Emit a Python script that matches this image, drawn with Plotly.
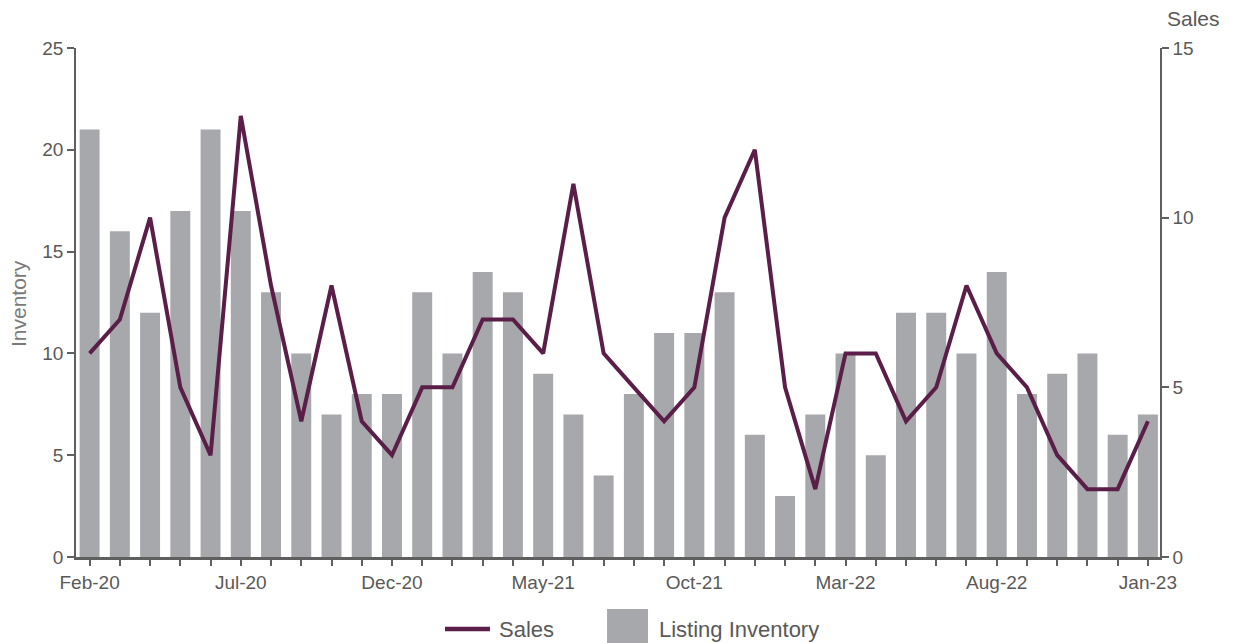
import plotly.graph_objects as go

# 月份
months = ['Feb-20', 'Mar-20', 'Apr-20', 'May-20', 'Jun-20', 'Jul-20', 'Aug-20', 'Sep-20',
          'Oct-20', 'Nov-20', 'Dec-20', 'Jan-21', 'Feb-21', 'Mar-21', 'Apr-21', 'May-21',
          'Jun-21', 'Jul-21', 'Aug-21', 'Sep-21', 'Oct-21', 'Nov-21', 'Dec-21', 'Jan-22',
          'Feb-22', 'Mar-22', 'Apr-22', 'May-22', 'Jun-22', 'Jul-22', 'Aug-22', 'Sep-22',
          'Oct-22', 'Nov-22', 'Dec-22', 'Jan-23']

# 库存（左轴）
inventory = [21, 16, 12, 17, 21, 17, 13, 10, 7, 8, 8, 13, 10, 14, 13, 9,
             7, 4, 8, 11, 11, 13, 6, 3, 7, 10, 5, 12, 12, 10, 14, 8,
             9, 10, 6, 7]

# 销量（右轴）
sales = [6, 7, 10, 5, 3, 13, 8, 4, 8, 4, 3, 5, 5, 7, 7, 6,
         11, 6, 5, 4, 5, 10, 12, 5, 2, 6, 6, 4, 5, 8, 6, 5,
         3, 2, 2, 4]

tick_labels = [m if i % 5 == 0 else '' for i, m in enumerate(months)]

axis_color = '#5f5f5f'
font_color = '#595959'
bar_color = '#a7a8ab'
line_color = '#5a1e48'
FONT = 'Liberation Sans, Arial, sans-serif'

fig = go.Figure()

fig.add_trace(go.Bar(
    x=months, y=inventory, name='Listing Inventory',
    marker=dict(color=bar_color, line=dict(width=0)),
    width=0.66, yaxis='y'
))

fig.add_trace(go.Scatter(
    x=months, y=sales, name='Sales', mode='lines',
    line=dict(color=line_color, width=4),
    yaxis='y2'
))

# 自绘图例（位置按像素换算成 paper 坐标）
fig.add_shape(type='line', xref='paper', yref='paper',
              x0=0.3404, x1=0.3819, y0=-0.1415, y1=-0.1415,
              line=dict(color=line_color, width=4.5))
fig.add_shape(type='rect', xref='paper', yref='paper',
              x0=0.4899, x1=0.5277, y0=-0.175, y1=-0.102,
              fillcolor=bar_color, line=dict(width=0))

# 页面 body 有 8px 边距，图的尺寸相应减小
fig.update_layout(
    width=1225, height=635,
    margin=dict(l=68, r=73, t=40, b=86),
    plot_bgcolor='white', paper_bgcolor='white',
    font=dict(family=FONT, size=19, color=font_color),
    showlegend=False,
    xaxis=dict(
        type='category', range=[-0.45, 35.4], automargin=False,
        tickmode='array', tickvals=months, ticktext=tick_labels,
        ticks='outside', ticklen=6, tickcolor=axis_color, tickwidth=1.5,
        showline=True, linecolor=axis_color, linewidth=3,
        showgrid=False, tickangle=0, tickfont=dict(size=19)
    ),
    yaxis=dict(
        range=[0, 25], dtick=5, ticks='outside', ticklen=7, automargin=False,
        tickcolor=axis_color, tickwidth=1.5,
        showline=True, linecolor=axis_color, linewidth=1.5,
        showgrid=False, zeroline=False, tickfont=dict(size=19)
    ),
    yaxis2=dict(
        range=[0, 15], dtick=5, overlaying='y', side='right', automargin=False,
        ticks='outside', ticklen=7, tickcolor=axis_color, tickwidth=1.5,
        showline=True, linecolor=axis_color, linewidth=1.5,
        showgrid=False, zeroline=False, tickfont=dict(size=19)
    ),
    annotations=[
        dict(text='Sales', xref='paper', yref='paper', x=1.0045, y=1.057,
             xanchor='left', yanchor='middle', showarrow=False,
             font=dict(size=21, color=font_color)),
        dict(text='Inventory', xref='paper', yref='paper', x=-0.0535, y=0.497,
             xanchor='center', yanchor='middle', textangle=-90, showarrow=False,
             font=dict(size=21, color='#7a7a7a')),
        dict(text='Sales', xref='paper', yref='paper', x=0.3884, y=-0.1415,
             xanchor='left', yanchor='middle', showarrow=False,
             font=dict(size=22, color=font_color)),
        dict(text='Listing Inventory', xref='paper', yref='paper', x=0.536, y=-0.1415,
             xanchor='left', yanchor='middle', showarrow=False,
             font=dict(size=22, color=font_color)),
    ],
)

fig.write_html('out.html')
